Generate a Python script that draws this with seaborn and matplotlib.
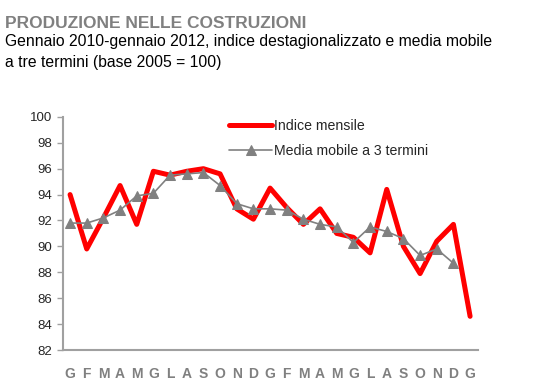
import numpy as np
import pandas as pd
import seaborn as sns
import matplotlib.pyplot as plt

# mesi gen 2010 - gen 2012
mesi = ["G", "F", "M", "A", "M", "G", "L", "A", "S", "O", "N", "D",
        "G", "F", "M", "A", "M", "G", "L", "A", "S", "O", "N", "D", "G"]

indice_mensile = [94.0, 89.8, 92.2, 94.7, 91.7, 95.8, 95.5, 95.8, 96.0, 95.6, 92.9, 92.1,
                  94.5, 93.0, 91.7, 92.9, 91.0, 90.7, 89.5, 94.4, 90.0, 87.9, 90.4, 91.7, 84.6]

media_mobile = [91.8, 91.8, 92.2, 92.8, 93.9, 94.1, 95.5, 95.6, 95.7, 94.7, 93.3, 92.9,
                92.9, 92.8, 92.1, 91.7, 91.5, 90.3, 91.5, 91.15, 90.6, 89.3, 89.8, 88.7]

sns.set_style("white")
plt.rcParams['font.family'] = ['Liberation Sans', 'DejaVu Sans']

df1 = pd.DataFrame({"x": np.arange(len(indice_mensile)), "y": indice_mensile})
df2 = pd.DataFrame({"x": np.arange(len(media_mobile)), "y": media_mobile})

fig = plt.figure(figsize=(5.39, 3.87), dpi=100)
ax = fig.add_axes([0.117, 0.0956, 0.77, 0.6024])

sns.lineplot(data=df1, x="x", y="y", ax=ax, color="#ff0000", linewidth=3.6,
             label="Indice mensile")
sns.lineplot(data=df2, x="x", y="y", ax=ax, color="#808080", linewidth=1.2,
             marker="^", markersize=7, markeredgecolor="#808080",
             label="Media mobile a 3 termini")

ax.set_xlim(-0.42, 24.48)
ax.set_ylim(82, 100)
ax.set_yticks(range(82, 101, 2))
ax.set_xticks(range(len(mesi)))
ax.set_xticklabels(mesi, color="#808080", fontweight="bold", fontsize=10)
ax.tick_params(axis="x", length=0, pad=12)
ax.tick_params(axis="y", length=4, width=1, color="#a0a0a0", direction="out",
               labelsize=9.5, pad=4, left=True)
ax.set_xlabel("")
ax.set_ylabel("")
for s in ["top", "right"]:
    ax.spines[s].set_visible(False)
for s in ["left", "bottom"]:
    ax.spines[s].set_color("#a0a0a0")
    ax.spines[s].set_linewidth(1.5)

ax.legend(loc="upper left", bbox_to_anchor=(0.37, 1.045), frameon=False,
          fontsize=10.2, handlelength=3.0, handletextpad=0.15, labelspacing=0.75)

fig.text(0.009, 0.928, "PRODUZIONE NELLE COSTRUZIONI", color="#808080",
         fontweight="bold", fontsize=12.5, va="baseline")
fig.text(0.009, 0.881, "Gennaio 2010-gennaio 2012, indice destagionalizzato e media mobile",
         color="black", fontsize=11.3, va="baseline")
fig.text(0.009, 0.827, "a tre termini (base 2005 = 100)",
         color="black", fontsize=11.3, va="baseline")

fig.savefig("out.png", dpi=100)
